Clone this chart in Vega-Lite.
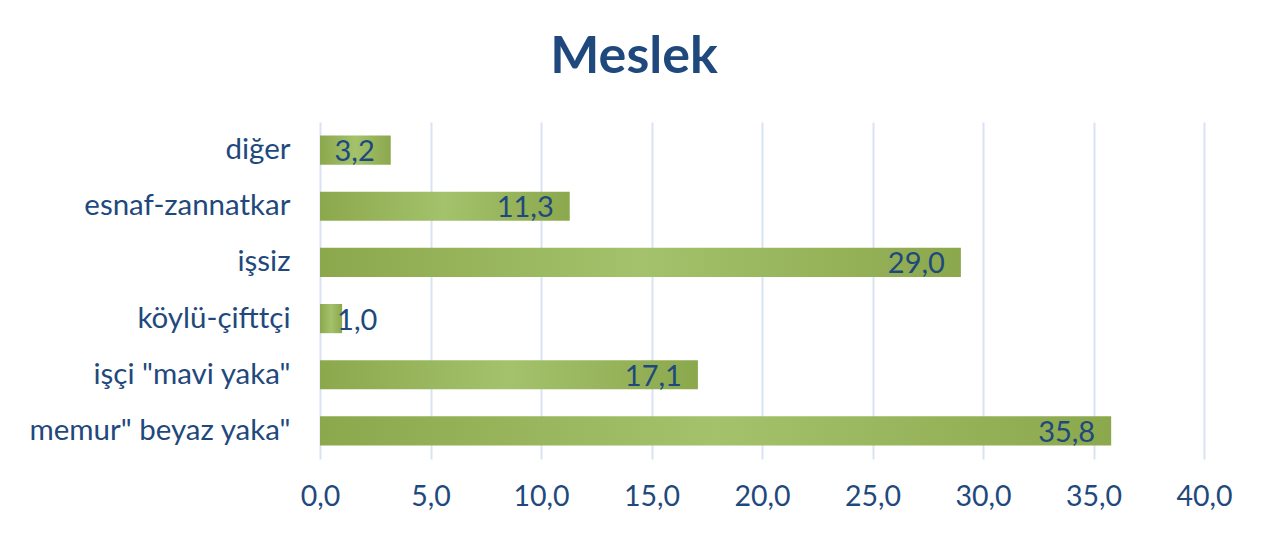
{
  "$schema": "https://vega.github.io/schema/vega-lite/v6.json",
  "autosize": "none",
  "width": 884,
  "height": 337,
  "padding": {"left": 320, "top": 122, "right": 64, "bottom": 76},
  "background": "white",
  "config": {
    "locale": {"number": {"decimal": ",", "thousands": ".", "grouping": [3], "currency": ["", " TL"]}},
    "view": {"stroke": null},
    "font": "Lato"
  },
  "title": {
    "text": "Meslek",
    "font": "Lato",
    "fontSize": 52,
    "fontWeight": "bold",
    "color": "#1F497D",
    "anchor": "middle",
    "dx": -128,
    "offset": 38
  },
  "data": {
    "values": [
      {"meslek": "diğer", "deger": 3.2},
      {"meslek": "esnaf-zannatkar", "deger": 11.3},
      {"meslek": "işsiz", "deger": 29.0},
      {"meslek": "köylü-çifttçi", "deger": 1.0},
      {"meslek": "işçi \"mavi yaka\"", "deger": 17.1},
      {"meslek": "memur\" beyaz yaka\"", "deger": 35.8}
    ]
  },
  "encoding": {
    "y": {
      "field": "meslek",
      "type": "nominal",
      "sort": null,
      "scale": {"paddingInner": 0.48, "paddingOuter": 0.24},
      "axis": {
        "title": null,
        "ticks": false,
        "domain": false,
        "labelFont": "Lato",
        "labelFontSize": 29.5,
        "labelColor": "#1F497D",
        "labelPadding": 30,
        "labelLimit": 0
      }
    },
    "x": {
      "field": "deger",
      "type": "quantitative",
      "scale": {"domain": [0, 40], "nice": false},
      "axis": {
        "title": null,
        "values": [0, 5, 10, 15, 20, 25, 30, 35, 40],
        "format": ".1f",
        "ticks": false,
        "domain": false,
        "grid": true,
        "gridColor": "#D9E4F3",
        "gridWidth": 2,
        "labelFont": "Lato",
        "labelFontSize": 28.5,
        "labelColor": "#1F497D",
        "labelPadding": 23,
        "labelFlush": false
      }
    }
  },
  "layer": [
    {
      "mark": {
        "type": "bar",
        "color": {
          "gradient": "linear",
          "x1": 0, "x2": 1, "y1": 0, "y2": 0,
          "stops": [
            {"offset": 0, "color": "#8CA84D"},
            {"offset": 0.5, "color": "#A3C26B"},
            {"offset": 1, "color": "#8CA84D"}
          ]
        }
      }
    },
    {
      "transform": [{"filter": "datum.deger >= 2"}],
      "mark": {"type": "text", "align": "right", "dx": -16, "fontSize": 29, "font": "Lato", "color": "#1F497D", "baseline": "middle", "dy": 2},
      "encoding": {"text": {"field": "deger", "type": "quantitative", "format": ".1f"}}
    },
    {
      "transform": [{"filter": "datum.deger < 2"}],
      "mark": {"type": "text", "align": "left", "dx": -5, "fontSize": 29, "font": "Lato", "color": "#1F497D", "baseline": "middle", "dy": 2},
      "encoding": {"text": {"field": "deger", "type": "quantitative", "format": ".1f"}}
    }
  ]
}
